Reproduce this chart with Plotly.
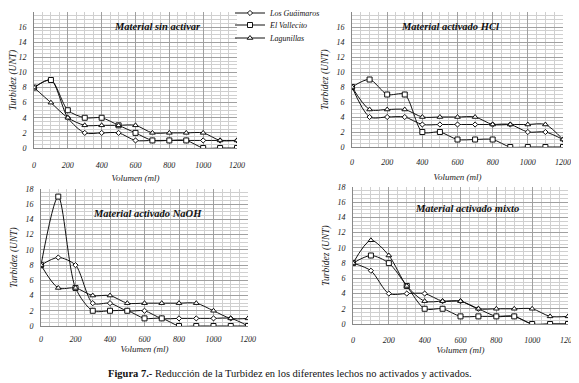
import plotly.graph_objects as go

volumen = [0, 100, 200, 300, 400, 500, 600, 700, 800, 900, 1000, 1100, 1200]
series_names = ["Los Guáimaros", "El Vallecito", "Lagunillas"]

titles = ["Material sin activar", "Material activado HCl", "Material activado NaOH", "Material activado mixto"]

sin_guaimaros = [8, 9, 4, 2, 2, 2, 1, 1, 1, 1, 1, 1, 1]
sin_vallecito = [8, 9, 5, 4, 4, 3, 2, 1, 1, 1, 0, 0, 0]
sin_lagunillas = [8, 6, 4, 3, 3, 3, 3, 2, 2, 2, 2, 1, 1]

hcl_guaimaros = [8, 4, 4, 4, 3, 3, 3, 3, 3, 3, 2, 2, 1]
hcl_vallecito = [8, 9, 7, 7, 2, 2, 1, 1, 1, 0, 0, 0, 0]
hcl_lagunillas = [8, 5, 5, 5, 4, 4, 4, 4, 3, 3, 3, 3, 1]

naoh_guaimaros = [8, 9, 8, 3, 3, 2, 2, 1, 1, 1, 1, 1, 0]
naoh_vallecito = [8, 17, 5, 2, 2, 2, 1, 1, 0, 0, 0, 0, 0]
naoh_lagunillas = [8, 5, 5, 4, 4, 3, 3, 3, 3, 3, 2, 1, 1]

mix_guaimaros = [8, 7, 4, 4, 4, 3, 3, 2, 1, 1, 0, 0, 0]
mix_vallecito = [8, 9, 8, 5, 2, 2, 1, 1, 1, 1, 0, 0, 0]
mix_lagunillas = [8, 11, 9, 5, 3, 3, 3, 2, 2, 2, 2, 1, 1]

panels = [
    [sin_guaimaros, sin_vallecito, sin_lagunillas],
    [hcl_guaimaros, hcl_vallecito, hcl_lagunillas],
    [naoh_guaimaros, naoh_vallecito, naoh_lagunillas],
    [mix_guaimaros, mix_vallecito, mix_lagunillas],
]

# page has an 8px body margin: the figure is placed at (8, 8)
OFF = 8
W, H = 579 - OFF, 383 - OFF
SERIF = "Liberation Serif, Times New Roman, serif"


def fx(px):
    return max(0.0, min(1.0, (px - OFF) / W))


def fy(py):
    return max(0.0, min(1.0, 1 - (py - OFF) / H))


# plot areas in window pixels: (x0, x1, ytop, ybottom)
boxes = [(34, 237, 12, 148), (352, 563, 12, 147), (41, 248, 189, 326), (353, 568, 187, 324)]
tick_standoff = [9, 7, 5, 8]
title_standoff = [6, 8, 2, 2]
title_pos = [(157, 27), (450, 27), (147, 213), (467, 208)]
symbols = ["diamond", "square", "triangle-up"]
sizes = [4, 5, 5]
legend_rows = [13, 25, 38]

fig = go.Figure()

for i, (data, box) in enumerate(zip(panels, boxes)):
    xa = "x" if i == 0 else f"x{i+1}"
    ya = "y" if i == 0 else f"y{i+1}"
    for j, vals in enumerate(data):
        fig.add_trace(go.Scatter(
            x=volumen, y=vals, xaxis=xa, yaxis=ya,
            mode="lines+markers", name=series_names[j],
            showlegend=(i == 0),
            legend="legend" if j == 0 else f"legend{j+1}",
            line=dict(color="#111", width=1, shape="spline", smoothing=0.8),
            marker=dict(symbol=symbols[j], size=sizes[j], color="white",
                        line=dict(color="#111", width=1)),
        ))
    x0, x1, yt, yb = box
    axkey = "xaxis" if i == 0 else f"xaxis{i+1}"
    aykey = "yaxis" if i == 0 else f"yaxis{i+1}"
    fig.layout[axkey] = dict(
        domain=[fx(x0), fx(x1)], anchor=ya, range=[0, 1200], automargin=False,
        dtick=200, tick0=0, showgrid=True, gridcolor="#a0a0a0", gridwidth=1,
        minor=dict(dtick=50, showgrid=True, gridcolor="#d0d0d0", gridwidth=1),
        showline=True, linecolor="#888", linewidth=1, zeroline=False,
        tickfont=dict(family=SERIF, size=8, color="#222", style="italic"),
        ticks="", tickangle=0, ticklabelstandoff=tick_standoff[i],
        title=dict(text="<i>Volumen (ml)</i>", font=dict(family=SERIF, size=9, color="#222"),
                   standoff=title_standoff[i]),
    )
    fig.layout[aykey] = dict(
        domain=[fy(yb), fy(yt)], anchor=xa, range=[0, 18], automargin=False,
        dtick=2, tick0=0, showgrid=True, gridcolor="#a0a0a0", gridwidth=1,
        minor=dict(dtick=0.5, showgrid=True, gridcolor="#d0d0d0", gridwidth=1),
        showline=True, linecolor="#888", linewidth=1, zeroline=False,
        tickfont=dict(family=SERIF, size=8, color="#222", style="italic"),
        ticks="", ticklabelstandoff=5,
        title=dict(text="<i>Turbidez (UNT)</i>", font=dict(family=SERIF, size=9.5, color="#222"),
                   standoff=6),
    )
    tx, ty = title_pos[i]
    fig.add_annotation(
        xref="paper", yref="paper", x=fx(tx), y=fy(ty), xanchor="center", yanchor="middle",
        text=f"<b><i>{titles[i]}</i></b>", showarrow=False,
        font=dict(family=SERIF, size=10.5, color="#111"),
    )

fig.add_annotation(
    xref="paper", yref="paper", x=fx(290), y=fy(373), xanchor="center", yanchor="middle",
    text="<b>Figura 7.-</b> Reducción de la Turbidez en los diferentes lechos no activados y activados.",
    showarrow=False, font=dict(family=SERIF, size=10.5, color="#111"),
)

legend_common = dict(xanchor="left", yanchor="middle",
                     font=dict(family=SERIF, size=8, color="#111", style="italic"),
                     itemwidth=30, bgcolor="rgba(0,0,0,0)", borderwidth=0)

fig.update_layout(
    width=W, height=H, margin=dict(l=0, r=0, t=0, b=0, autoexpand=False),
    paper_bgcolor="white", plot_bgcolor="white",
    legend=dict(x=fx(230), y=fy(legend_rows[0]), **legend_common),
    legend2=dict(x=fx(230), y=fy(legend_rows[1]), **legend_common),
    legend3=dict(x=fx(230), y=fy(legend_rows[2]), **legend_common),
)

fig.write_html("out.html")
